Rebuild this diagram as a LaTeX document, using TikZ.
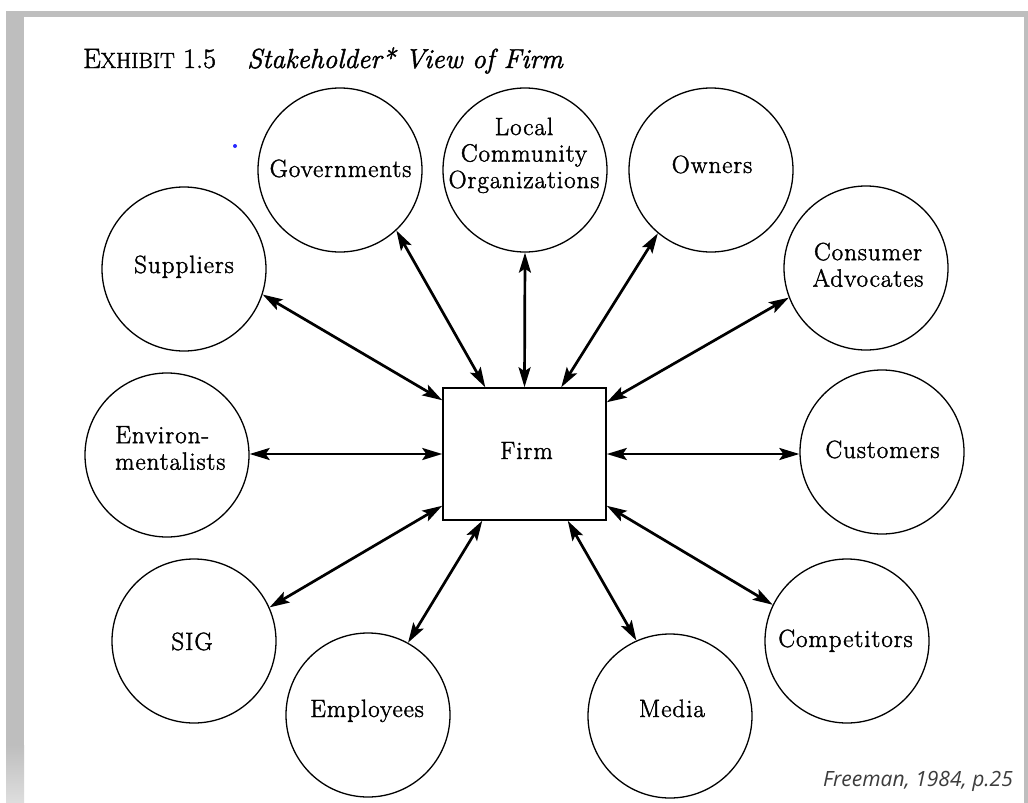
\documentclass[tikz,border=0pt]{standalone}
\usepackage{fontspec}
\newfontfamily\sansit{Open Sans}
\newfontfamily\lblfont{Latin Modern Roman}[FakeBold=1.6, LetterSpace=4]
\newfontfamily\ttlfont{Latin Modern Roman}[FakeBold=1.6]
\usetikzlibrary{arrows.meta,calc}
\definecolor{framegray}{RGB}{190,190,190}
\definecolor{framelight}{RGB}{222,222,222}
\definecolor{citegray}{RGB}{60,60,60}
\definecolor{dotblue}{RGB}{40,40,255}
\begin{document}
\begin{tikzpicture}[x=1pt,y=-1pt,
  stake/.style={circle, draw, line width=1.3pt, minimum size=164pt, inner sep=0pt},
  lbl/.style={font=\lblfont\fontsize{25}{26.5}\selectfont, inner sep=0pt},
  link/.style={line width=2.7pt, {Stealth[length=20pt,width=12pt,inset=4pt]}-{Stealth[length=20pt,width=12pt,inset=4pt]}},
]
\useasboundingbox (0,0) rectangle (1028,803);
\fill[white] (0,0) rectangle (1028,803);
\fill[framegray] (6,11) rectangle (1028,803);
\fill[white] (24,17) rectangle (1024,803);
\shade[top color=framegray, bottom color=framelight] (6,745) rectangle (24,803);

% title
\node[anchor=base west, inner sep=0pt, font=\ttlfont\fontsize{28}{28}\selectfont] (ttla) at (83,68) {E{\fontsize{22}{22}\selectfont XHIBIT} 1.5};
\node[anchor=base west, inner sep=0pt, font=\ttlfont\fontsize{27.5}{27.5}\selectfont\itshape] (ttlb) at (247,68) {Stakeholder* View of Firm};

\fill[dotblue] (235,146) circle (2pt);

% stakeholders
\node[stake] (sup) at (184,269) {};
\node[stake] (gov) at (340,170) {};
\node[stake] (loc) at (525,170) {};
\node[stake] (own) at (711,170) {};
\node[stake] (con) at (866,268) {};
\node[stake] (env) at (167,455) {};
\node[stake] (cus) at (882,452) {};
\node[stake] (sig) at (194,641) {};
\node[stake] (emp) at (368,715) {};
\node[stake] (med) at (670,716) {};
\node[stake] (com) at (847,641) {};
\node[draw, line width=1.5pt, minimum width=163pt, minimum height=132pt, inner sep=0pt] (firm) at (524.5,454) {};

% labels
\node[lbl, anchor=base] (supt) at (184,273) {Suppliers};
\node[lbl, anchor=base] (govt) at (340.5,177) {Governments};
\node[lbl, anchor=north, align=center] (loct) at (524,117.5) {Local\\Community\\Organizations};
\node[lbl, anchor=base] (ownt) at (712,173) {Owners};
\node[lbl, anchor=north, align=center] (cont) at (868,242.5) {Consumer\\Advocates};
\node[lbl, anchor=north west, align=left] (envt) at (115,426) {Environ-\\mentalists};
\node[lbl, anchor=base] (cust) at (882.5,458) {Customers};
\node[lbl, anchor=base] (comt) at (845.5,647) {Competitors};
\node[lbl, anchor=base] (medt) at (672,717) {Media};
\node[lbl, anchor=base] (empt) at (367,717) {Employees};
\node[lbl, anchor=base] (sigt) at (192,650) {SIG};
\node[lbl, anchor=base] (firmt) at (526.5,459) {Firm};

% connectors
\draw[link] (sup.-18.4) -- ([yshift=-13pt]firm.north west);
\draw[link] (gov.-47.5) -- ([xshift=43pt]firm.north west);
\draw[link] (loc.south) -- (firm.north);
\draw[link] (own.-130.6) -- ([xshift=119pt]firm.north west);
\draw[link] (con.-159.6) -- ([yshift=-15pt]firm.north east);
\draw[link] (firm.east) -- (firm.east -| cus.west);
\draw[link] (com.154) -- ([yshift=15pt]firm.south east);
\draw[link] (med.114.7) -- ([xshift=-39pt]firm.south east);
\draw[link] (emp.61) -- ([xshift=40pt]firm.south west);
\draw[link] (sig.24) -- ([yshift=15pt]firm.south west);
\draw[link] (firm.west -| env.east) -- (firm.west);

\node[anchor=base east, inner sep=0pt, text=citegray, font=\sansit\itshape\fontsize{21}{21}\selectfont] (src) at (1013,786) {Freeman, 1984, p.25};
\end{tikzpicture}
\end{document}
